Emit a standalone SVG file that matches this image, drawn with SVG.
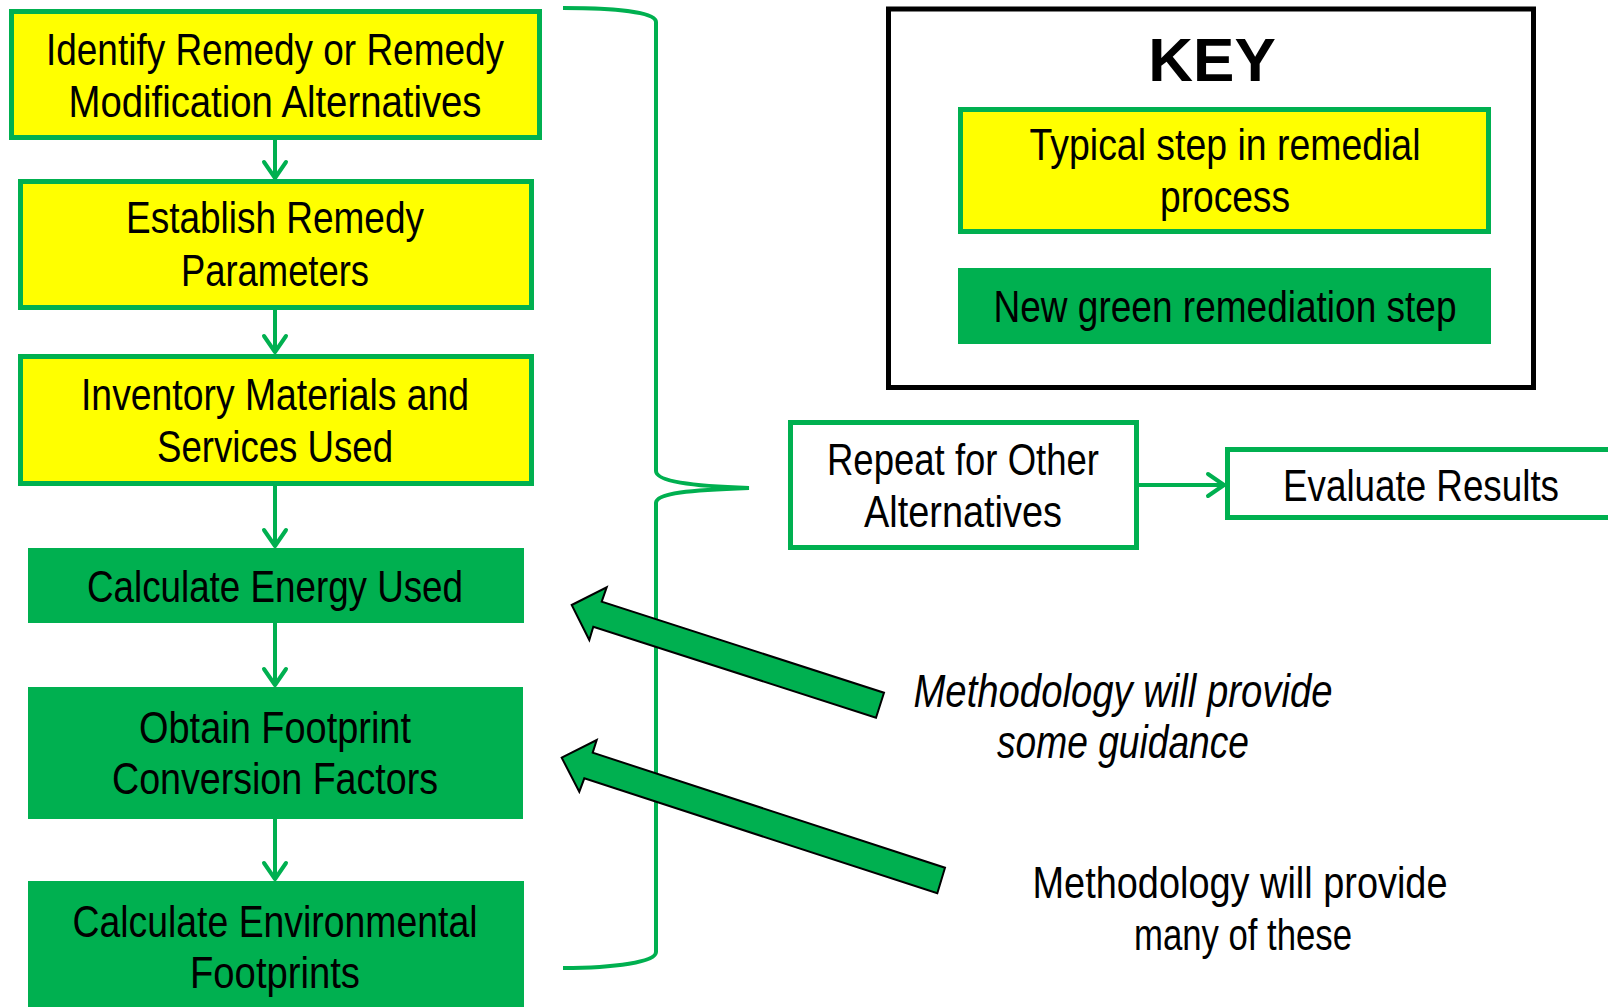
<svg xmlns="http://www.w3.org/2000/svg" width="1608" height="1007" viewBox="0 0 1608 1007">
<style>
  .t { font-family: "Liberation Sans Narrow", "Arial Narrow", "Liberation Sans", sans-serif; font-size: 45px; fill: #000; text-anchor: middle; }
  .it { font-style: italic; font-size: 46px; }
  .yel { fill: #FFFF00; stroke: #00B050; stroke-width: 5; }
  .grn { fill: #00B050; stroke: none; }
  .out { fill: #FFFFFF; stroke: #00B050; stroke-width: 5; }
  .conn { fill: none; stroke: #00B050; stroke-width: 4; }
  .big { fill: #00B050; stroke: #000; stroke-width: 2; stroke-linejoin: miter; }
</style>
<defs>
  <marker id="chev" markerUnits="userSpaceOnUse" viewBox="-22 -14 26 28" markerWidth="26" markerHeight="28" refX="0" refY="0" orient="auto">
    <path d="M-16,-11 L0,0 L-16,11" fill="none" stroke="#00B050" stroke-width="4" stroke-linecap="round" stroke-linejoin="round"/>
  </marker>
</defs>
<rect width="1608" height="1007" fill="#FFFFFF"/>

<g id="connectors">
  <path class="conn" d="M275,140 L275,178" marker-end="url(#chev)"/>
  <path class="conn" d="M275,310 L275,352" marker-end="url(#chev)"/>
  <path class="conn" d="M275,486 L275,546" marker-end="url(#chev)"/>
  <path class="conn" d="M275,623 L275,685" marker-end="url(#chev)"/>
  <path class="conn" d="M275,819 L275,879" marker-end="url(#chev)"/>
  <path class="conn" d="M1139,485 L1224,485" marker-end="url(#chev)"/>
  <path id="brace" class="conn" d="M563,8 C615,8 656,12 656,22 L656,471 C656,481 690,486 749,488 C690,490 656,493 656,503 L656,952 C656,962 615,968 563,968"/>
  <polygon class="big" points="571.7,605 606.7,587.3 601.7,601.7 884,692.7 876,717.7 593.3,626.7 589.3,640"/>
  <polygon class="big" points="561.7,757.7 596.7,740 592.7,752.7 945,867.7 937.3,893.3 584.3,778.3 579.3,791.7"/>
</g>

<g id="n1">
  <rect class="yel" x="11.5" y="11.5" width="528" height="126"/>
  <text class="t" x="275" y="65" textLength="458" lengthAdjust="spacingAndGlyphs">Identify Remedy or Remedy</text>
  <text class="t" x="275" y="117" textLength="413" lengthAdjust="spacingAndGlyphs">Modification Alternatives</text>
</g>
<g id="n2">
  <rect class="yel" x="20.5" y="181.5" width="511" height="126"/>
  <text class="t" x="275" y="233" textLength="298" lengthAdjust="spacingAndGlyphs">Establish Remedy</text>
  <text class="t" x="275" y="286" textLength="188" lengthAdjust="spacingAndGlyphs">Parameters</text>
</g>
<g id="n3">
  <rect class="yel" x="20.5" y="356.5" width="511" height="127"/>
  <text class="t" x="275" y="410" textLength="388" lengthAdjust="spacingAndGlyphs">Inventory Materials and</text>
  <text class="t" x="275" y="462" textLength="236" lengthAdjust="spacingAndGlyphs">Services Used</text>
</g>
<g id="n4">
  <rect class="grn" x="28" y="548" width="496" height="75"/>
  <text class="t" x="275" y="602" textLength="376" lengthAdjust="spacingAndGlyphs">Calculate Energy Used</text>
</g>
<g id="n5">
  <rect class="grn" x="28" y="687" width="495" height="132"/>
  <text class="t" x="275" y="743" textLength="272" lengthAdjust="spacingAndGlyphs">Obtain Footprint</text>
  <text class="t" x="275" y="794" textLength="326" lengthAdjust="spacingAndGlyphs">Conversion Factors</text>
</g>
<g id="n6">
  <rect class="grn" x="28" y="881" width="496" height="130"/>
  <text class="t" x="275" y="937" textLength="405" lengthAdjust="spacingAndGlyphs">Calculate Environmental</text>
  <text class="t" x="275" y="988" textLength="170" lengthAdjust="spacingAndGlyphs">Footprints</text>
</g>

<g id="key">
  <rect x="888.5" y="9" width="645" height="378.5" fill="#FFFFFF" stroke="#000" stroke-width="5"/>
  <text x="1212" y="81" font-family="Liberation Sans, Arial, sans-serif" font-weight="bold" font-size="62" text-anchor="middle" fill="#000">KEY</text>
  <g id="key-typical">
    <rect class="yel" x="960.5" y="109.5" width="528" height="122"/>
    <text class="t" x="1225" y="160" textLength="391" lengthAdjust="spacingAndGlyphs">Typical step in remedial</text>
    <text class="t" x="1225" y="212" textLength="130" lengthAdjust="spacingAndGlyphs">process</text>
  </g>
  <g id="key-new">
    <rect class="grn" x="958" y="268" width="533" height="76"/>
    <text class="t" x="1225" y="322" textLength="463" lengthAdjust="spacingAndGlyphs">New green remediation step</text>
  </g>
</g>

<g id="repeat">
  <rect class="out" x="790.5" y="422.5" width="346" height="125"/>
  <text class="t" x="963" y="475" textLength="272" lengthAdjust="spacingAndGlyphs">Repeat for Other</text>
  <text class="t" x="963" y="527" textLength="198" lengthAdjust="spacingAndGlyphs">Alternatives</text>
</g>
<g id="evaluate">
  <rect class="out" x="1227.5" y="449.5" width="400" height="68"/>
  <text class="t" x="1421" y="501" textLength="276" lengthAdjust="spacingAndGlyphs">Evaluate Results</text>
</g>

<g id="note-guidance">
  <text class="t it" x="1123" y="707" textLength="419" lengthAdjust="spacingAndGlyphs">Methodology will provide</text>
  <text class="t it" x="1123" y="758" textLength="252" lengthAdjust="spacingAndGlyphs">some guidance</text>
</g>
<g id="note-many">
  <text class="t" x="1240" y="898" textLength="415" lengthAdjust="spacingAndGlyphs">Methodology will provide</text>
  <text class="t" x="1243" y="950" textLength="218" lengthAdjust="spacingAndGlyphs">many of these</text>
</g>
</svg>
